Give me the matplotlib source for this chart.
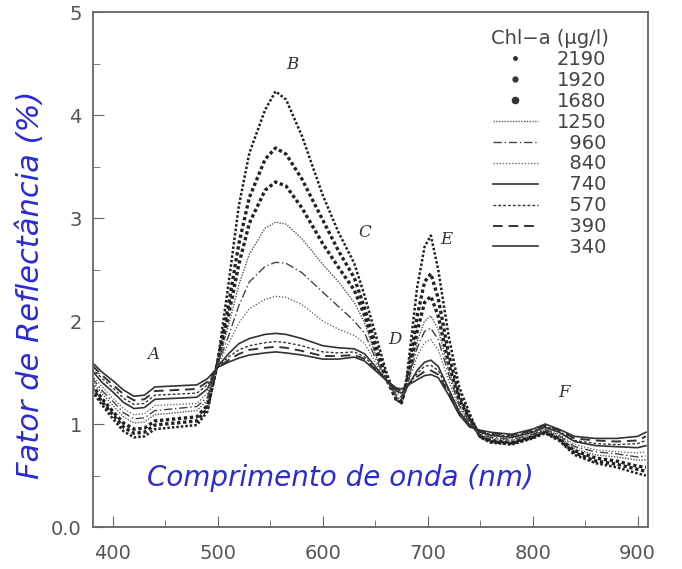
import matplotlib
matplotlib.use("Agg")
import matplotlib.pyplot as plt
from matplotlib.lines import Line2D

# wavelength (nm)
wl = [380, 390, 400, 410, 420, 430, 440, 460, 480, 490,
      500, 510, 520, 530, 545, 555, 565, 580, 600, 615, 630, 640, 650, 660,
      670, 675, 680, 690, 697, 703, 710, 720, 730, 740,
      750, 760, 780, 800, 812, 825, 840, 860, 880, 900, 908]

# reflectance (%) per chlorophyll-a concentration (ug/l)
r2190 = [1.32, 1.18, 1.05, 0.93, 0.87, 0.88, 0.95, 0.97, 0.99, 1.12,
         1.62, 2.35, 3.12, 3.63, 4.05, 4.23, 4.15, 3.80, 3.22, 2.86, 2.56, 2.24, 1.88, 1.52,
         1.24, 1.20, 1.45, 2.33, 2.72, 2.83, 2.50, 1.85, 1.36, 1.10,
         0.87, 0.82, 0.80, 0.86, 0.91, 0.84, 0.70, 0.62, 0.58, 0.52, 0.50]
r1920 = [1.35, 1.21, 1.09, 0.97, 0.91, 0.92, 0.99, 1.01, 1.03, 1.15,
         1.61, 2.15, 2.75, 3.20, 3.57, 3.68, 3.62, 3.38, 2.98, 2.68, 2.42, 2.12, 1.78, 1.47,
         1.24, 1.21, 1.40, 2.05, 2.38, 2.46, 2.22, 1.68, 1.28, 1.06,
         0.88, 0.83, 0.81, 0.87, 0.92, 0.85, 0.72, 0.64, 0.61, 0.56, 0.54]
r1680 = [1.38, 1.24, 1.12, 1.01, 0.95, 0.96, 1.03, 1.05, 1.07, 1.18,
         1.60, 2.05, 2.55, 2.95, 3.27, 3.35, 3.31, 3.10, 2.75, 2.52, 2.30, 2.05, 1.72, 1.45,
         1.24, 1.22, 1.38, 1.90, 2.18, 2.24, 2.05, 1.58, 1.24, 1.04,
         0.88, 0.84, 0.82, 0.88, 0.93, 0.86, 0.74, 0.67, 0.64, 0.59, 0.58]
r1250 = [1.42, 1.29, 1.18, 1.07, 1.01, 1.02, 1.09, 1.11, 1.13, 1.23,
         1.59, 1.95, 2.35, 2.65, 2.90, 2.96, 2.94, 2.80, 2.55, 2.38, 2.18, 1.98, 1.68, 1.44,
         1.26, 1.24, 1.36, 1.80, 2.00, 2.05, 1.92, 1.52, 1.20, 1.02,
         0.89, 0.86, 0.84, 0.89, 0.94, 0.88, 0.76, 0.70, 0.68, 0.65, 0.65]
r960 = [1.45, 1.32, 1.22, 1.11, 1.05, 1.06, 1.13, 1.15, 1.17, 1.26,
        1.58, 1.85, 2.15, 2.38, 2.53, 2.57, 2.56, 2.47, 2.28, 2.14, 2.00, 1.88, 1.64, 1.44,
        1.28, 1.26, 1.36, 1.74, 1.90, 1.93, 1.82, 1.48, 1.18, 1.01,
        0.90, 0.87, 0.85, 0.90, 0.95, 0.89, 0.78, 0.73, 0.71, 0.68, 0.69]
r840 = [1.47, 1.36, 1.25, 1.15, 1.09, 1.10, 1.18, 1.19, 1.20, 1.30,
        1.57, 1.78, 1.98, 2.12, 2.21, 2.24, 2.23, 2.16, 2.00, 1.92, 1.86, 1.78, 1.60, 1.43,
        1.30, 1.28, 1.35, 1.66, 1.79, 1.82, 1.72, 1.42, 1.15, 1.00,
        0.91, 0.88, 0.86, 0.91, 0.96, 0.90, 0.80, 0.75, 0.73, 0.72, 0.73]
r740 = [1.52, 1.40, 1.31, 1.21, 1.15, 1.16, 1.24, 1.25, 1.26, 1.34,
        1.56, 1.68, 1.78, 1.83, 1.87, 1.88, 1.87, 1.83, 1.76, 1.74, 1.73, 1.68, 1.56, 1.43,
        1.32, 1.30, 1.35, 1.52, 1.60, 1.62, 1.56, 1.34, 1.12, 0.99,
        0.92, 0.89, 0.87, 0.92, 0.97, 0.92, 0.83, 0.79, 0.78, 0.77, 0.79]
r570 = [1.54, 1.44, 1.35, 1.25, 1.19, 1.20, 1.28, 1.29, 1.30, 1.38,
        1.56, 1.65, 1.72, 1.76, 1.79, 1.80, 1.79, 1.76, 1.70, 1.69, 1.70, 1.65, 1.54, 1.43,
        1.33, 1.32, 1.36, 1.49, 1.56, 1.57, 1.52, 1.32, 1.11, 0.99,
        0.92, 0.90, 0.88, 0.93, 0.98, 0.93, 0.84, 0.81, 0.80, 0.81, 0.84]
r390 = [1.57, 1.47, 1.38, 1.29, 1.23, 1.24, 1.32, 1.33, 1.34, 1.41,
        1.55, 1.62, 1.68, 1.72, 1.74, 1.75, 1.74, 1.71, 1.66, 1.66, 1.67, 1.63, 1.53, 1.43,
        1.34, 1.33, 1.37, 1.46, 1.51, 1.52, 1.48, 1.30, 1.10, 0.98,
        0.93, 0.91, 0.89, 0.94, 0.99, 0.94, 0.86, 0.84, 0.83, 0.84, 0.88]
r340 = [1.60, 1.50, 1.42, 1.33, 1.27, 1.28, 1.36, 1.37, 1.38, 1.44,
        1.55, 1.60, 1.64, 1.67, 1.69, 1.70, 1.69, 1.67, 1.63, 1.63, 1.65, 1.61, 1.52, 1.43,
        1.35, 1.34, 1.37, 1.43, 1.47, 1.48, 1.45, 1.28, 1.09, 0.97,
        0.94, 0.92, 0.90, 0.95, 1.00, 0.95, 0.88, 0.86, 0.86, 0.88, 0.92]

chl_labels = ["2190", "1920", "1680", "1250", "\u2007960", "\u2007840",
              "\u2007740", "\u2007570", "\u2007390", "\u2007340"]
series = [r2190, r1920, r1680, r1250, r960, r840, r740, r570, r390, r340]

# band features
feat_names = ["A", "B", "C", "D", "E", "F"]
feat_wl = [438, 571, 640, 669, 718, 830]
feat_val = [1.67, 4.49, 2.86, 1.82, 2.79, 1.31]

styles = [
    dict(ls=(0, (1, 0.8)), lw=1.8, color="#222222"),
    dict(ls=(0, (1, 0.8)), lw=2.4, color="#222222"),
    dict(ls=(0, (1, 0.8)), lw=2.4, color="#222222"),
    dict(ls=(0, (1, 1)), lw=1.0, color="#555555"),
    dict(ls=(0, (6, 2, 1, 2)), lw=1.0, color="#444444"),
    dict(ls=(0, (1, 1.5)), lw=0.9, color="#555555"),
    dict(ls="-", lw=1.2, color="#333333"),
    dict(ls=(0, (2, 1.5)), lw=1.0, color="#333333"),
    dict(ls=(0, (5, 3)), lw=1.4, color="#333333"),
    dict(ls="-", lw=1.2, color="#333333"),
]
dot_sizes = [2.5, 3.5, 4.5]

fig = plt.figure(figsize=(6.82, 5.69), dpi=100)
ax = fig.add_axes([0.1364, 0.0738, 0.8138, 0.9051])

for vals, st in zip(series, styles):
    ax.plot(wl, vals, **st)

handles = []
for i, st in enumerate(styles):
    if i < 3:
        handles.append(Line2D([], [], ls="none", marker="o", ms=dot_sizes[i],
                              color="#333333"))
    else:
        handles.append(Line2D([], [], **st))

leg = ax.legend(handles, chl_labels, title="Chl\u2212a (\u03bcg/l)", loc="upper right",
                bbox_to_anchor=(0.95, 0.99), frameon=False, fontsize=14,
                title_fontsize=14, labelspacing=0.1, handlelength=2.3,
                handletextpad=1.0, borderaxespad=0.2)
for t in leg.get_texts():
    t.set_color("#444444")
leg.get_title().set_color("#444444")

for name, x, y in zip(feat_names, feat_wl, feat_val):
    ax.text(x, y, name, family="DejaVu Serif", style="italic", fontsize=12,
            color="#333333", ha="center", va="center")

ax.set_xlim(381, 910)
ax.set_ylim(0, 5)
ax.set_xticks([400, 500, 600, 700, 800, 900])
ax.set_xticks([450, 550, 650, 750, 850], minor=True)
ax.set_yticks([0, 1, 2, 3, 4, 5])
ax.set_yticklabels(["0.0", "1", "2", "3", "4", "5"])
ax.set_yticks([0.5, 1.5, 2.5, 3.5, 4.5], minor=True)
ax.tick_params(which="both", direction="in", colors="#666666", labelcolor="#555555",
               labelsize=14)
ax.tick_params(which="major", length=8)
ax.tick_params(which="minor", length=5)
ax.tick_params(axis="x", pad=12)
ax.tick_params(axis="y", pad=8)
for sp in ax.spines.values():
    sp.set_color("#666666")
    sp.set_linewidth(1.3)

blue = "#2b2bd6"
fig.text(0.4985, 0.16, "Comprimento de onda (nm)", color=blue, style="italic",
         fontsize=20, ha="center", va="center")
fig.text(0.044, 0.50, "Fator de Reflect\u00e2ncia (%)", color=blue, style="italic",
         fontsize=22, ha="center", va="center", rotation=90)

fig.savefig("out.png", dpi=100)
